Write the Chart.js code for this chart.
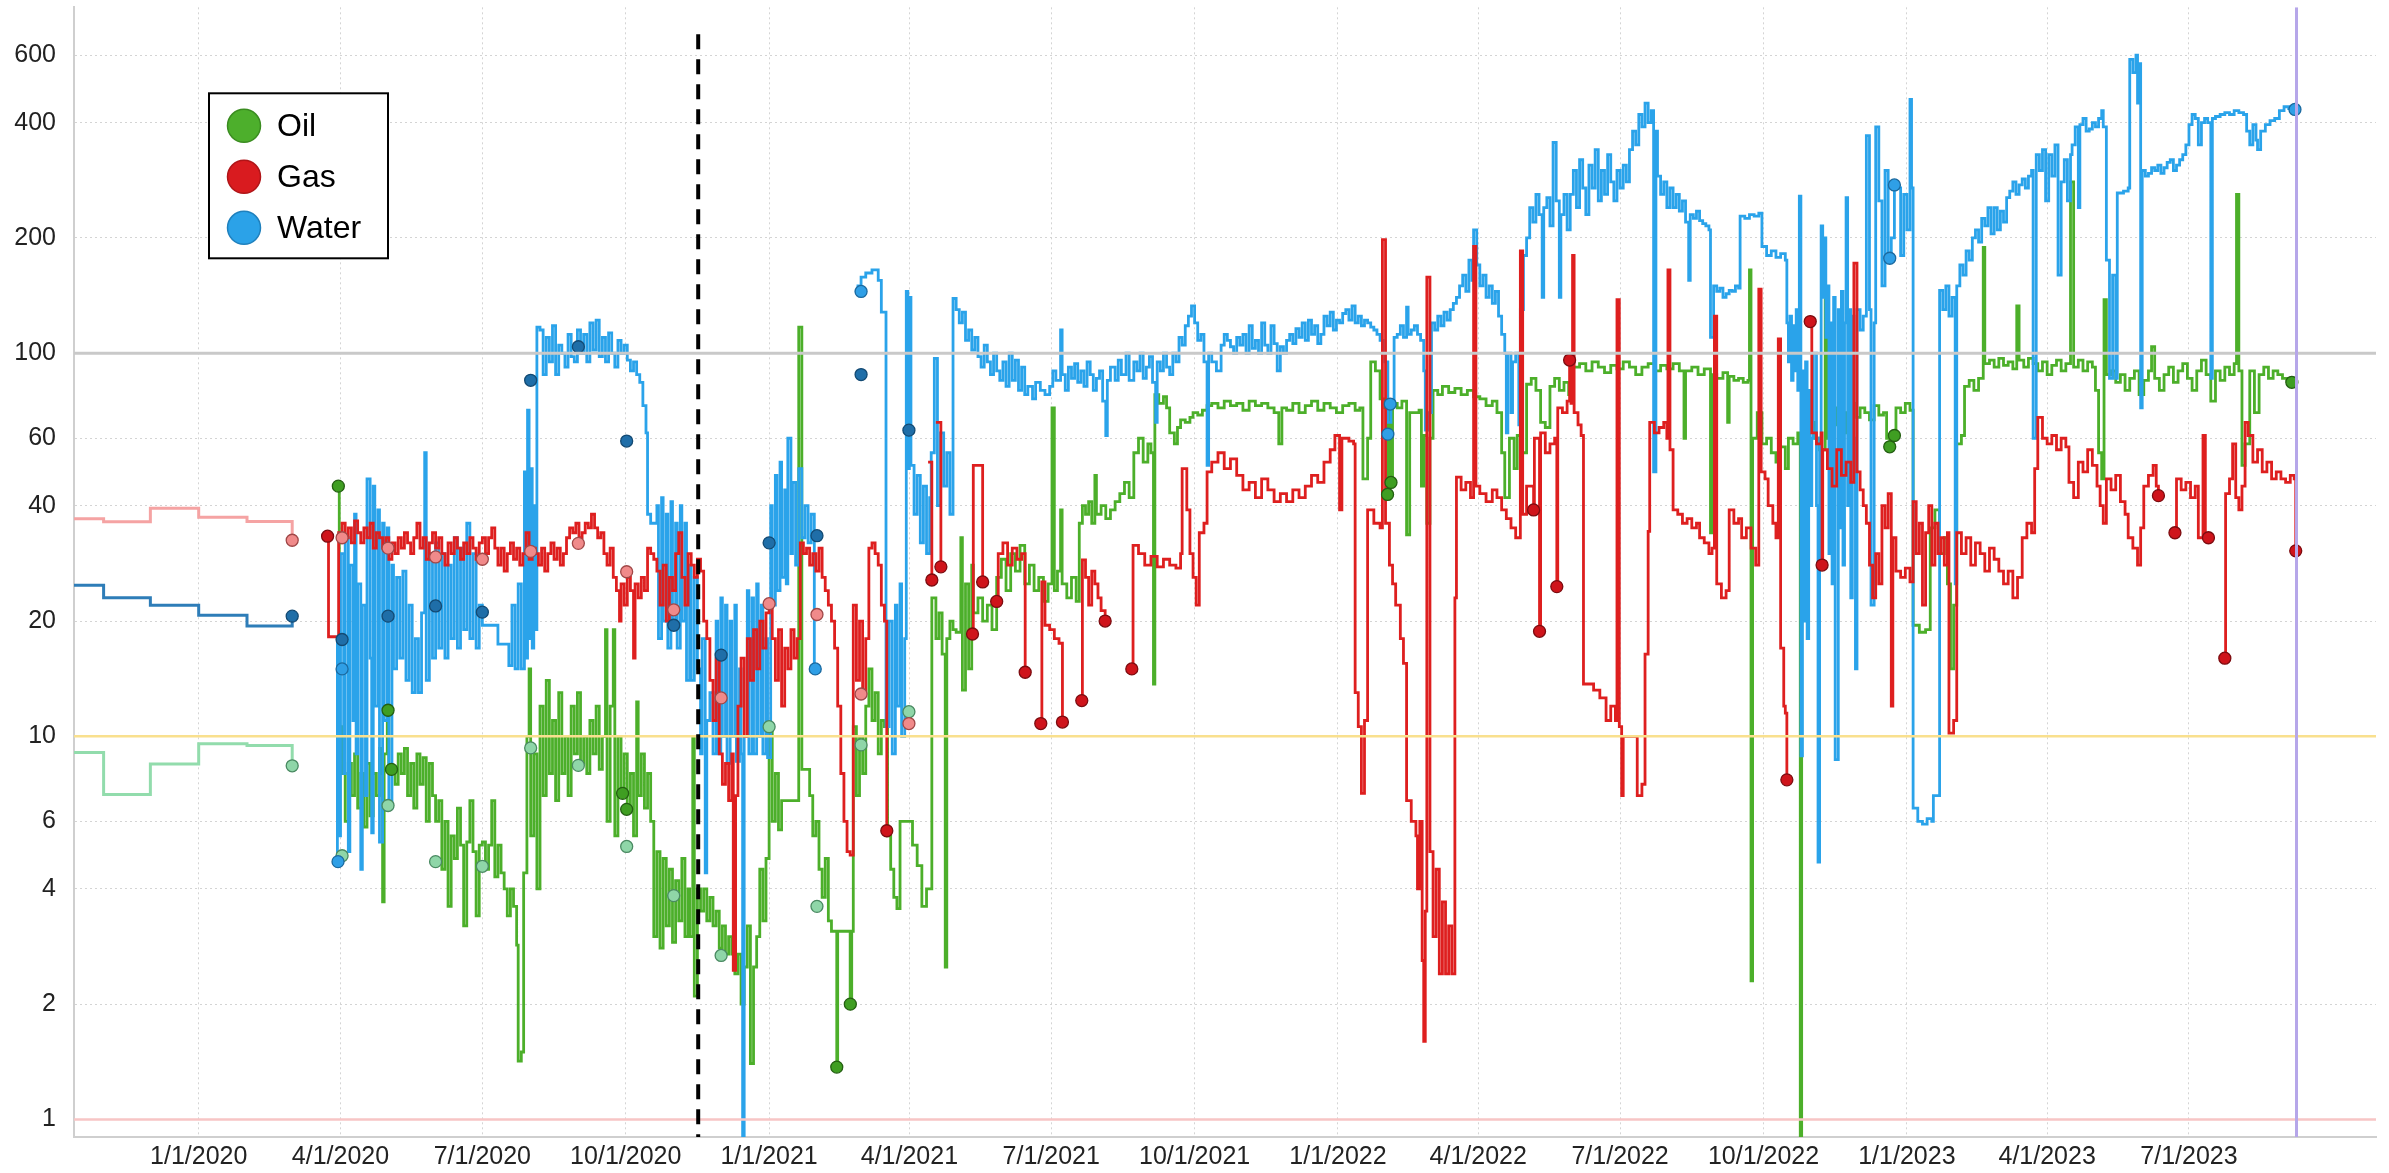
<!DOCTYPE html>
<html><head><meta charset="utf-8">
<script src="https://cdn.jsdelivr.net/npm/chart.js@4.4.1/dist/chart.umd.min.js"></script>
<style>html,body{margin:0;padding:0;background:#fff;overflow:hidden}canvas{display:block}</style>
</head><body>
<canvas id="c" width="2389" height="1173"></canvas>
<script>
// x values: days since 1/1/2020
const tickDays = [0,91,182,274,366,456,547,639,731,821,912,1004,1096,1186,1277];
const tickLabels = ['1/1/2020','4/1/2020','7/1/2020','10/1/2020','1/1/2021','4/1/2021','7/1/2021','10/1/2021','1/1/2022','4/1/2022','7/1/2022','10/1/2022','1/1/2023','4/1/2023','7/1/2023'];
const yTicks = [1,2,4,6,10,20,40,60,100,200,400,600];
const legendNames = ['Oil','Gas','Water'];
const refLevels = [100,10,1];
const dashedDay = 320.5;
const todayDay = 1346;

const oilForecast = [[-90,9.08],[-61,7.05],[-31,8.47],[0,9.57],[31,9.47],[60,8.38]];
const gasForecast = [[-90,37],[-61,36.3],[-31,39.4],[0,37.3],[31,36.4],[60,32.5]];
const waterForecast = [[-90,24.8],[-61,23.0],[-31,22.0],[0,20.7],[31,19.4],[60,20.7]];

const oilSeries = [[89.6,45],[90.2,10.6],[92,8],[94,6],[96,8.5],[98,7],[100,9],[102,6.5],[104,8],[106,5.8],[108,8.5],[110,6.2],[112,8],[114,7],[116,9.3],[117,8],[118,3.7],[119,9],[121,11.7],[122,8.2],[124,8.3],[126,7.5],[128,9],[130,8],[132,9.3],[134,7],[136,8.5],[138,6.5],[140,9],[142,7.5],[144,8.8],[146,6],[148,8.5],[150,7],[152,6],[154,6.8],[156,4.5],[158,6],[160,3.6],[162,5.5],[164,4.8],[166,6.5],[168,5.2],[170,3.2],[172,5.3],[174,6.8],[176,5],[178,3.4],[180,5.2],[182,5.3],[184,4.5],[186,5.2],[188,6.8],[190,4.3],[192,5.2],[194,4.4],[196,4],[198,3.4],[200,4],[202,3.6],[204,2.85],[205,1.42],[207,1.5],[208.5,4.4],[210.6,10],[212,15],[213,5.5],[215,9],[217,4],[219,12],[221,7],[223,14],[225,8],[227,11],[229,6.8],[231,13],[233,8],[235,10],[237,7],[239,12],[241,9],[243,13],[245,8.5],[247,10],[249,8],[251,11],[253,9],[255,12],[257,8.2],[259,10],[261,19],[262,6],[264,12],[266,19],[267,5.5],[269,10],[271,7],[273,9],[275,6.5],[277,8],[279,5.5],[281,12.3],[282,7],[284,9],[286,6.5],[288,8],[290,6],[292,3],[294,5],[296,2.8],[298,4.8],[300,3.2],[302,4.5],[304,2.9],[306,4.2],[308,3.3],[310,4.8],[312,3],[314,4],[315,3],[317,10],[318,2.1],[320,4],[322,3.5],[324,4],[326,3.3],[328,3.8],[330,3.2],[332,3.5],[334,2.8],[336,3.2],[338,2.7],[340,3],[342,2.7],[344,2.4],[346,2.7],[348,2],[350,2.5],[352,3.2],[354,1.4],[356,2.5],[358,3],[360,4.5],[362,3.3],[364,4.8],[366,10.6],[368,6],[370,8],[372,5.7],[374,6.8],[378,6.8],[382,6.8],[385,117],[387,8.2],[390,8.2],[392,7],[394,5.5],[396,6],[398,4.5],[400,3.8],[402,4.8],[404,3.3],[406,3.1],[408,3.1],[409.4,1.37],[410,3.1],[414,3.1],[418,2.0],[419,3.1],[420,10.6],[422,7],[424,10],[426,8],[428,12],[430,15],[432,11],[434,13],[436,9],[438,11],[440,10.6],[442,5.5],[444,4.5],[446,3.8],[448,3.55],[450,6],[453,6],[456,6],[458,5.2],[461,4.6],[464,3.6],[467,4],[470.4,23],[473,18],[475,21],[477,16.4],[479,2.5],[480,18],[482,20],[484,19],[486,18.7],[489,33],[490,13.2],[492,25],[494,15],[496,28],[497,21],[500,23],[503,20],[506,22],[509,19],[512,26],[515,29],[518,24],[521,30],[524,27],[527,31.5],[530,25],[533,28],[536,24],[539,26],[542,22.5],[545,25],[547.5,72],[549,24],[551,27],[553,39],[554,25],[557,23],[560,26],[563,22.5],[565,36],[567,40],[569,38],[571,41],[573,36],[575,48],[576,38],[579,40],[582,37],[585,39],[588,41],[591,43],[594,46],[597,42],[600,55],[603,60],[606,52],[609,58],[611,55],[612.6,13.7],[613.5,78],[616,74],[619,77],[621,72],[623,62],[626,58],[628,64],[630,67],[633,66],[636,68],[638,70],[641,69],[644,71],[647,73],[650,74],[654,72],[658,75],[662,73],[666,74],[670,71],[674,75],[678,73],[682,74],[686,72],[690,70],[693,58],[695,72],[698,71],[702,74],[706,70],[710,73],[714,75],[718,71],[722,74],[726,72],[730,70],[734,73],[738,74],[742,71],[745,72],[747,47],[750,60],[752,95],[755,90],[758,76],[761,72],[763,42.8],[764,75],[765,46],[766,74],[769,72],[772,75],[775,33.6],[777,70],[780,70],[783,71],[784.5,45],[786,61],[788,36],[790,60],[792,80],[795,78],[798,82],[802,79],[806,81],[810,78],[814,80],[818,77],[822,76],[826,73],[830,75],[833,70],[836,55],[838,42],[841,60],[844,50],[846,61],[849,55],[852,83],[855,86],[858,80],[861,66],[864,64],[867,82],[870,86],[873,80],[876,84],[879,78],[882,92],[886,94],[890,90],[894,95],[898,92],[902,89],[906,93],[910,91],[914,95],[918,92],[922,88],[926,92],[930,94],[934,90],[938,93],[942,91],[946,94],[950,90],[953,60],[954,90],[958,92],[962,88],[966,91],[970,34],[971,88],[974,86],[978,89],[981,66],[982,87],[985,85],[988,86],[991,84],[994,85],[995,165],[996,2.3],[997,60],[1000,70],[1003,58],[1006,60],[1009,55],[1012,52],[1015,57],[1018,50],[1020,60],[1023,58],[1026,62],[1027.6,0.85],[1028.5,65],[1031,70],[1034,66],[1037,60],[1040,56],[1043.6,138],[1045,60],[1048,72],[1051,65],[1054,70],[1057,62],[1060,74],[1063,68],[1066,72],[1069,70],[1072,67],[1075,73],[1078,69],[1081,70],[1083,60],[1085,57],[1086,62],[1088,61],[1089,72],[1092,70],[1095,74],[1098,71],[1100,19.5],[1104,18.7],[1108,19],[1111,35],[1114,39],[1117,30],[1120,33],[1122,25],[1124,15],[1126,22],[1128,58],[1131,61],[1133,82],[1136,85],[1139,80],[1142,86],[1145,189],[1146,94],[1149,96],[1152,92],[1155,97],[1158,93],[1161,95],[1164,91],[1166.5,133],[1168,96],[1171,92],[1174,97],[1177,94],[1180,90],[1183,95],[1186,88],[1189,93],[1192,96],[1195,90],[1198,94],[1201,280],[1203,92],[1206,96],[1209,90],[1212,95],[1215,92],[1217,80],[1219,55],[1221,47],[1222.5,138],[1224,88],[1227,90],[1230,84],[1233,88],[1236,80],[1239,86],[1242,90],[1245,78],[1248,85],[1251,90],[1253,104],[1255,86],[1258,80],[1261,88],[1264,92],[1267,84],[1270,90],[1273,94],[1276,86],[1279,80],[1282,90],[1285,96],[1288,88],[1291,75],[1294,90],[1297,85],[1300,92],[1303,88],[1306,94],[1307.5,260],[1309,90],[1311,51],[1313,58],[1316,90],[1319,70],[1322,88],[1325,92],[1328,86],[1331,90],[1334,88],[1337,86],[1340,85],[1343,84]];

const gasSeries = [[82.7,33.3],[83.3,18.2],[89.8,34],[92,36],[94,33],[96,35],[98,32],[100,36.5],[102,34],[104,32],[106,35],[108,33],[110,36],[112,31],[114,34],[116,33],[118,31],[120,33],[122,29],[124,32],[126,30],[128,33],[130,31],[132,34],[134,32],[136,30],[138,33],[140,36],[142,31],[144,33],[146,29],[148,32],[150,34],[152,31],[154,33],[156,30],[158,28],[160,32],[162,30],[164,33],[166,31],[168,29],[170,32],[172,30],[174,33],[176,31],[178,29],[180,32],[182,33],[184,30],[186,33],[188,35],[190,31],[192,28],[194,31],[196,27],[198,30],[200,32],[202,29],[204,31],[206,28],[208,30],[210,34],[212,29],[214,31],[216,30],[218,28],[220,31],[222,27],[224,30],[226,32],[228,29],[230,31],[232,28],[234,30],[236,33],[238,35],[240,34],[242,36],[244,33],[246,34],[248,36],[250,35],[252,38],[254,35],[256,33],[258,34],[260,30],[262,28],[264,31],[266,26],[268,24],[270,20],[271,25],[273,22],[275,26],[277,24],[279,16],[280,25],[282,23],[284,26],[286,24],[288,31],[290,30],[292,29],[294,27],[296,22],[298,28],[300,20],[302,26],[304,24],[306,30],[308,34],[310,26],[312,22],[314,30],[316,28],[318,26],[320,29],[322,27],[324,20],[326,18],[328,14],[330,11],[332,16],[334,9],[336,7.5],[338,8.5],[340,6.8],[342,9],[343,2.45],[344.5,7],[346,12],[348,16],[350,10],[352,18],[354,14],[356,19],[358,15],[360,20],[362,17],[364,21],[366,22],[368,18],[370,14],[372,19],[374,12],[376,17],[378,15],[380,19],[382,16],[384,18],[386,32],[388,30],[390,31],[392,28],[394,30],[396,27],[398,31],[400,26],[402,24],[404,22],[406,20],[408,17],[410,12],[412,8],[414,6],[416,5],[418,4.9],[420,22],[422,14],[424,20],[426,13],[428,18],[430,31],[432,32],[434,30],[436,28],[438,22],[440,20],[441.5,5.67],[442,null],[468,52],[470.4,25.6],[471,null],[473,66],[476.2,27.7],[477,null],[496.5,18.5],[497,51],[503,25.3],[504,null],[512,22.5],[513,30],[516,32],[519,28],[522,31],[525,29],[528,30],[530.3,14.7],[531,null],[540.3,10.8],[541,25.3],[543,19.5],[546,19],[549,18],[552,17.5],[554.2,10.9],[555,null],[566.6,12.4],[567,28.9],[569,26],[571,22],[573,27],[575,25],[577,23],[579,21.3],[581.6,20],[582,null],[598.7,15],[599.5,31.5],[603,30],[607,28],[611,29.5],[615,27.7],[619,29],[623,28],[627,27.5],[630,30],[631,50],[634,39],[636,30],[638,26],[640,22],[642,34],[645,36],[647,49],[650,52],[654,55],[658,50],[662,53],[666,48],[670,44],[674,46],[678,42],[682,47],[686,44],[690,41],[694,43],[698,41],[702,44],[706,42],[710,45],[714,48],[718,46],[722,52],[726,56],[729,61],[732,39],[733.5,60],[738,59],[741,58],[742,13],[744,10.6],[746,7.1],[748,11],[750,39],[754,36],[758,35],[759.5,198],[761.5,36],[764,28],[766,25],[768,22],[771,18],[773,15.5],[775,6.8],[778,6],[781,5.5],[782,4],[783.5,6],[785,2.6],[786,1.6],[787,3.5],[788,158],[790,5],[792,3],[794,4.5],[796,2.4],[798,3.7],[800,2.4],[802,3.2],[804,2.4],[806,23],[807,47.5],[810,44],[813,46],[816,42],[818,190],[819.5,45],[822,43],[826,41],[830,44],[833,42],[836,39],[839,37],[842,35],[845,33],[848,185],[849.5,38],[852,45],[856.5,39],[857,60],[860.3,18.8],[861,62],[864,55],[867,58],[870,60],[871.4,24.6],[872,72],[875,70],[878,75],[879.6,96],[880.5,74],[881.5,180],[882.5,70],[885,65],[887,61],[888.5,13.7],[892,13.7],[895,13.2],[899,12.6],[903,11],[906,12],[909,11],[910,138],[911.5,10.6],[913,7],[914,10],[918,10],[921,10],[923,7],[926,7.5],[928,16.4],[930,34.3],[931,66],[934,62],[937,64],[940,66],[942,60],[942.7,165],[944,56],[946,39],[949,38],[952,36],[955,37],[958,35],[961,36],[963,33],[966,32],[969,30],[971,31],[972.5,125],[974,25],[977,23],[980,24],[982,39],[985,36],[988,37],[990,33],[993,35],[996,31],[999,28],[1001,147],[1002.5,49],[1005,47],[1007,40],[1010,36],[1012,33],[1013.5,109],[1015,17],[1017,12],[1018,11.5],[1019,7.7],[1019.5,null],[1034,121],[1035,62],[1038,58],[1041,62],[1041.6,28],[1042,56],[1045,50],[1048,45],[1051,56],[1054,48],[1057,52],[1060,46],[1062,172],[1064,49],[1066,44],[1068,40],[1070,36],[1072,28],[1074,23],[1076,30],[1078,25],[1080,40],[1082,35],[1084,43],[1086,12],[1087,33],[1089,27],[1092,26],[1095,27.5],[1098,25.3],[1100,41],[1102,30],[1104,36],[1106,22],[1108,34],[1110,40],[1112,28],[1114,36],[1116,30],[1118,33],[1120,28],[1122,34],[1123,10.2],[1126,11],[1128,34],[1131,30],[1134,33],[1137,28],[1140,32],[1143,30],[1146,27],[1149,31],[1152,29],[1155,27],[1158,25],[1161,27],[1164,23],[1167,26],[1170,33],[1173,36],[1176,34],[1178,50],[1180,68],[1183,60],[1186,58],[1189,61],[1192,56],[1195,60],[1198,57],[1200,46],[1203,42],[1206,52],[1209,49],[1212,56],[1215,51],[1218,45],[1220,40],[1222,36],[1224,47],[1227,44],[1230,48],[1233,41],[1236,38],[1238,33],[1241,31],[1244,28],[1246,35],[1248,45],[1251,48],[1254,51],[1256,45],[1257.4,42.5],[1258,null],[1268,34],[1269,47],[1272,44],[1275,46],[1278,42],[1281,45],[1283,33],[1286,61],[1287.5,33],[1289.5,33],[1290,null],[1300,16],[1300.5,43],[1303,47],[1305,58],[1307,42],[1309,39],[1311,45],[1313,66],[1315,61],[1318,52],[1321,56],[1324,49],[1327,52],[1330,47],[1333,49],[1336,47],[1339,46],[1342,48],[1344.5,47],[1345.5,30.5]];

const waterSeries = [[88,4.7],[89,18],[90,5.5],[91,30],[93,8],[94,33],[96,5],[97,28],[99,11],[100,38],[101,9],[102,25],[104,4.5],[105,22],[107,7],[108,47],[110,16],[111,5.6],[112,45],[113,12],[115,39],[116,5.3],[118,36],[119,11],[121,35],[122,6.5],[124,28],[125,15],[127,26],[129,16],[131,27],[133,14],[135,22],[137,13],[139,18],[141,13],[143,21],[145,55],[146,14],[148,30],[150,16],[152,32],[154,17],[156,30],[158,16],[160,28],[162,18],[164,33],[166,17],[168,31],[170,19],[172,36],[174,18],[176,30],[178,17],[180,22],[182,19.5],[192,17.4],[199,15.3],[201,22],[203,15],[205,25],[207,15],[209,49],[210,16],[211,71],[212,18],[213,50],[214,17],[215,40],[216,19],[217,117],[219,115],[221,88],[223,110],[225,95],[227,118],[229,88],[231,105],[233,100],[235,92],[237,112],[239,98],[241,95],[243,115],[245,100],[247,112],[249,95],[251,120],[253,102],[255,122],[257,98],[259,110],[261,95],[263,113],[265,100],[267,92],[269,108],[271,100],[273,105],[275,96],[277,90],[279,95],[281,88],[283,84],[285,73],[287,62],[288,38],[290,36],[294,40],[295,18],[297,42],[298,20],[300,38],[301,17],[303,41],[304,19],[306,36],[307,17],[309,40],[310,20],[312,36],[313,14],[315,28],[316,14],[318,26],[320,15],[322,9],[323,18],[325,4.4],[326,11],[328,13],[330,9],[332,20],[333,9],[335,23],[336,10],[338,22],[339,8.5],[341,20],[342,10],[344,22],[345,8.6],[347,15],[348,9],[349,0.85],[350,10],[352,24],[353,9],[355,23],[356,9],[358,25],[359,10],[361,22],[362,9],[364,18],[365,8.8],[367,40],[368,22],[370,48],[371,24],[373,52],[374,26],[376,44],[377,25],[378,60],[380,30],[381,46],[383,28],[385,50],[387,33],[389,40],[391,32],[393,38],[395,15],[396,null],[421,145],[423,150],[425,158],[428,162],[432,165],[436,155],[438,128],[441,10.6],[443,20],[445,9],[447,22],[448,12],[450,25],[451,10],[453,18],[454,145],[455,50],[456,140],[457,51],[459,38],[461,48],[463,32],[465,45],[467,30],[469,42],[470,55],[472,97],[474,40],[476,62],[478,45],[480,55],[482,38],[484,139],[486,130],[488,120],[490,128],[492,108],[494,115],[496,102],[498,110],[500,98],[502,92],[504,105],[506,95],[508,88],[510,100],[512,90],[514,85],[516,95],[518,82],[520,100],[522,85],[524,96],[526,80],[528,92],[530,78],[532,82],[535,76],[537,84],[540,80],[543,78],[546,82],[548,90],[550,85],[553,115],[554,88],[556,80],[558,92],[560,86],[562,94],[564,84],[566,90],[568,82],[570,95],[572,88],[574,80],[576,86],[578,90],[580,75],[582,61],[583,85],[585,92],[588,85],[590,96],[592,88],[595,100],[597,85],[600,95],[602,90],[604,100],[606,86],[608,92],[610,98],[612,84],[614,66],[615,95],[617,90],[619,100],[621,92],[623,88],[625,100],[627,95],[629,110],[631,105],[633,118],[635,125],[637,133],[639,120],[641,108],[643,112],[645,95],[647,51],[648,100],[650,95],[653,90],[656,105],[658,112],[660,108],[662,104],[664,100],[666,110],[668,105],[670,112],[672,100],[674,118],[676,103],[678,108],[680,100],[682,120],[684,105],[686,100],[688,118],[690,106],[692,90],[694,104],[696,100],[698,108],[700,112],[702,106],[704,116],[706,110],[708,120],[710,108],[712,122],[714,112],[716,118],[718,106],[720,112],[722,125],[724,118],[726,128],[728,115],[730,122],[732,120],[734,127],[736,130],[738,122],[740,133],[742,120],[744,125],[746,118],[748,122],[750,120],[752,117],[754,115],[756,112],[758,108],[760,100],[761,95],[763,66],[765,75],[767,110],[769,112],[771,118],[773,110],[775,132],[776,112],[778,115],[780,118],[782,112],[784,108],[786,90],[787,63],[789,70],[791,120],[793,115],[795,125],[797,118],[799,128],[801,122],[803,130],[805,135],[807,140],[809,150],[811,160],[813,145],[815,175],[817,155],[818,210],[820,170],[822,150],[824,160],[826,140],[828,150],[830,135],[832,145],[834,125],[836,112],[838,100],[839,62],[840,100],[842,70],[843,95],[845,100],[847,65],[848,130],[850,180],[852,200],[854,240],[856,220],[858,260],[860,230],[862,140],[863,240],[865,255],[867,215],[869,355],[871,250],[873,140],[874,230],[876,260],[878,210],[880,260],[882,300],[884,240],[886,320],[888,270],[890,230],[892,310],[894,270],[896,340],[898,250],[900,300],[902,260],[904,330],[906,280],[908,250],[910,300],[912,270],[914,310],[916,280],[918,340],[920,380],[922,350],[924,420],[926,390],[928,450],[930,400],[932,430],[933.5,49],[935,380],[936,290],[938,260],[940,280],[942,240],[944,270],[946,240],[948,260],[950,235],[952,250],[954,220],[956,155],[957,230],[959,225],[961,235],[963,222],[965,218],[967,215],[969,210],[970,110],[972,150],[974,145],[976,148],[978,140],[980,143],[982,146],[984,145],[986,150],[988,148],[989,228],[992,225],[995,230],[998,228],[1001,232],[1003,190],[1006,180],[1009,185],[1012,178],[1015,182],[1018,175],[1019,120],[1020,95],[1021,125],[1022,85],[1023,118],[1024,90],[1025,130],[1026,80],[1027,257],[1028,8.9],[1029,90],[1030,20],[1031,95],[1032,18],[1033,80],[1034,40],[1035,60],[1036,100],[1038,40],[1039,4.7],[1040,60],[1041,215],[1042,140],[1043,200],[1044,110],[1045,150],[1046,30],[1047,120],[1048,25],[1049,140],[1050,8.7],[1052,130],[1053,35],[1054,145],[1055,28],[1056,120],[1057,255],[1058,40],[1059,130],[1060,23],[1061,125],[1062,60],[1063,15],[1064,130],[1066,115],[1068,125],[1070,370],[1072,130],[1073,22],[1075,120],[1076,390],[1078,250],[1080,150],[1082,300],[1084,180],[1086,200],[1088,275],[1090,270],[1092,180],[1094,260],[1096,210],[1098,460],[1099,270],[1100,6.5],[1103,6.0],[1106,5.9],[1109,6.1],[1112,6.0],[1113,7.0],[1117,146],[1119,130],[1121,150],[1123,125],[1125,140],[1127,25],[1128,150],[1130,170],[1132,160],[1134,185],[1136,175],[1138,200],[1140,210],[1142,195],[1144,225],[1146,215],[1148,240],[1150,205],[1152,240],[1154,210],[1156,235],[1158,220],[1160,255],[1162,265],[1164,280],[1166,260],[1168,275],[1170,285],[1172,270],[1174,290],[1176,300],[1177,60],[1179,330],[1181,300],[1183,340],[1185,250],[1187,330],[1189,290],[1191,350],[1193,160],[1195,280],[1197,320],[1199,250],[1201,330],[1202,350],[1204,390],[1206,240],[1207,395],[1209,410],[1211,380],[1213,385],[1215,400],[1217,390],[1219,410],[1221,430],[1222,390],[1224,175],[1226,86],[1228,160],[1230,86],[1231,262],[1235,265],[1238,270],[1239,585],[1241,540],[1243,600],[1244,450],[1245,570],[1246,72],[1247,300],[1249,290],[1251,295],[1253,305],[1255,300],[1257,310],[1259,295],[1261,305],[1263,315],[1265,320],[1267,300],[1269,310],[1271,320],[1273,330],[1275,350],[1277,395],[1279,420],[1281,410],[1283,350],[1285,400],[1287,410],[1289,400],[1291,86],[1292,410],[1294,415],[1297,420],[1300,425],[1303,420],[1306,430],[1309,425],[1312,420],[1314,380],[1316,350],[1318,395],[1320,360],[1321,340],[1323,380],[1326,395],[1329,405],[1332,410],[1335,430],[1338,440],[1341,435],[1344,430],[1346,430]];

const darkBlueMarkers = [[60,20.6],[92,17.9],[121.5,20.6],[152,21.9],[182,21.1],[213,85],[243.6,104],[274.6,59],[304.8,19.5],[335.2,16.3],[366,32],[396.7,33.4],[425,88],[455.7,63]];
const lightBlueMarkers = [[89.4,4.71],[92,15.0],[395.6,15],[425,145],[763,61.5],[764.5,73.7],[1085,177],[1088,275],[1345,433]];
const pinkMarkers = [[60,32.5],[92,33],[121.5,31],[152,29.4],[182,29],[213,30.4],[243.6,31.9],[274.6,26.9],[304.8,21.4],[335.2,12.6],[366,22.2],[396.7,20.8],[425,12.9],[455.7,10.8]];
const darkRedMarkers = [[82.7,33.3],[441.5,5.67],[470.4,25.6],[476.2,27.7],[496.5,18.5],[503,25.3],[512,22.5],[530.3,14.7],[540.3,10.8],[554.2,10.9],[566.6,12.4],[581.6,20],[598.7,15],[856.5,39],[860.3,18.8],[871.4,24.6],[879.6,96],[1019,7.7],[1034,121],[1041.6,28],[1257.4,42.5],[1268,34],[1289.5,33],[1300,16],[1345.5,30.5]];
const darkGreenMarkers = [[89.6,45],[121.5,11.7],[123.7,8.2],[272,7.1],[274.6,6.45],[409.4,1.37],[418.1,2.0],[762.8,42.8],[765,46],[1085,57],[1088,61],[1343,84]];
const lightGreenMarkers = [[60,8.38],[92,4.88],[121.5,6.6],[152,4.71],[182,4.58],[213,9.33],[243.6,8.4],[274.6,5.16],[304.8,3.84],[335.2,2.68],[366,10.6],[396.7,3.6],[425,9.5],[455.7,11.6]];

const xy = a => a.map(p => ({x: p[0], y: p[1]}));
const FONT = "'Liberation Sans', Arial, sans-serif";

function lineDs(data, color, width) {
  return {type:'line', data: xy(data), borderColor: color, borderWidth: width, pointRadius: 0,
    stepped: true, fill: false, spanGaps: false, tension: 0};
}
function markerDs(data, fill, border) {
  return {type:'scatter', data: xy(data), backgroundColor: fill, borderColor: border, borderWidth: 1.3,
    pointRadius: 6, pointHoverRadius: 6, showLine: false};
}

const refPlugin = {
  id: 'refLines',
  afterDatasetsDraw(chart) {
    const {ctx, chartArea: a, scales: {x, y}} = chart;
    ctx.save();
    ctx.beginPath(); ctx.rect(a.left, a.top, a.right - a.left, a.bottom - a.top); ctx.clip();
    const styles = [['#c9c9c9', 3], ['#f9e08e', 2.5], ['#f7c5c5', 2.5]];
    refLevels.forEach((v, i) => {
      const py = y.getPixelForValue(v);
      ctx.strokeStyle = styles[i][0]; ctx.lineWidth = styles[i][1];
      ctx.beginPath(); ctx.moveTo(a.left, py); ctx.lineTo(a.right, py); ctx.stroke();
    });
    const dx = x.getPixelForValue(dashedDay);
    ctx.strokeStyle = '#000'; ctx.lineWidth = 4; ctx.setLineDash([15, 10]);
    ctx.beginPath(); ctx.moveTo(dx, y.getPixelForValue(680)); ctx.lineTo(dx, a.bottom); ctx.stroke();
    ctx.setLineDash([]);
    const tx = x.getPixelForValue(todayDay);
    ctx.strokeStyle = '#b6a6e9'; ctx.lineWidth = 3;
    ctx.beginPath(); ctx.moveTo(tx, a.top); ctx.lineTo(tx, a.bottom); ctx.stroke();
    ctx.restore();
  },
  afterDraw(chart) {
    const {ctx, chartArea: a} = chart;
    const bx = a.left + 135, by = a.top + 86, bw = 179, bh = 165;
    ctx.save();
    ctx.fillStyle = '#fff'; ctx.fillRect(bx, by, bw, bh);
    ctx.strokeStyle = '#000'; ctx.lineWidth = 2; ctx.strokeRect(bx, by, bw, bh);
    const fills = ['#4daf2c', '#d91b1f', '#2ba2e8'];
    const strokes = ['#3a8c20', '#b01518', '#1f80bd'];
    legendNames.forEach((name, i) => {
      const cy = by + 32.5 + i * 51;
      ctx.beginPath(); ctx.arc(bx + 35, cy, 16.5, 0, Math.PI * 2);
      ctx.fillStyle = fills[i]; ctx.fill();
      ctx.lineWidth = 1.5; ctx.strokeStyle = strokes[i]; ctx.stroke();
      ctx.fillStyle = '#000'; ctx.font = '32px ' + FONT; ctx.textBaseline = 'middle'; ctx.textAlign = 'left';
      ctx.fillText(name, bx + 68, cy + 1);
    });
    ctx.restore();
  }
};

new Chart(document.getElementById('c'), {
  type: 'line',
  data: {
    datasets: [
      markerDs(darkRedMarkers, '#cf141b', '#7d0c10'),
      markerDs(pinkMarkers, '#f08a8a', '#a04848'),
      markerDs(darkBlueMarkers, '#1f6ea8', '#134a73'),
      markerDs(lightBlueMarkers, '#2f9fe6', '#1b6aa0'),
      markerDs(darkGreenMarkers, '#3f9e22', '#245f12'),
      markerDs(lightGreenMarkers, '#8fd6a8', '#4a8a62'),
      lineDs(gasSeries, '#de1f1f', 2.8),
      lineDs(waterSeries, '#2aa3ea', 2.8),
      lineDs(oilSeries, '#4caf2a', 2.8),
      lineDs(gasForecast, '#f5a3a3', 3),
      lineDs(waterForecast, '#2e7db8', 3),
      lineDs(oilForecast, '#92dcac', 3)
    ]
  },
  options: {
    responsive: false, animation: false, devicePixelRatio: 1,
    layout: {padding: {left: 0, right: 13, top: 6, bottom: 0}},
    plugins: {legend: {display: false}, tooltip: {enabled: false}},
    scales: {
      x: {
        type: 'linear', min: -80, max: 1397,
        afterBuildTicks: s => { s.ticks = tickDays.map(v => ({value: v})); },
        afterFit: s => { s.height = 36; s.paddingLeft = 0; s.paddingRight = 0; },
        ticks: {autoSkip: false, maxRotation: 0, padding: 5, color: '#222', font: {family: FONT, size: 25},
          callback: v => tickLabels[tickDays.indexOf(v)] || ''},
        grid: {color: '#d4d4d4', lineWidth: 1, drawTicks: false},
        border: {display: true, color: '#cfcfcf', width: 2, dash: [2, 3]}
      },
      y: {
        type: 'logarithmic', min: 0.9, max: 800,
        afterBuildTicks: s => { s.ticks = yTicks.map(v => ({value: v})); },
        afterFit: s => { s.width = 74; s.paddingTop = 0; s.paddingBottom = 0; },
        ticks: {autoSkip: false, padding: 18, color: '#222', font: {family: FONT, size: 25},
          callback: v => String(v)},
        grid: {color: '#d4d4d4', lineWidth: 1, drawTicks: false},
        border: {display: true, color: '#cfcfcf', width: 2, dash: [2, 3]}
      }
    }
  },
  plugins: [refPlugin]
});
</script>
</body></html>
